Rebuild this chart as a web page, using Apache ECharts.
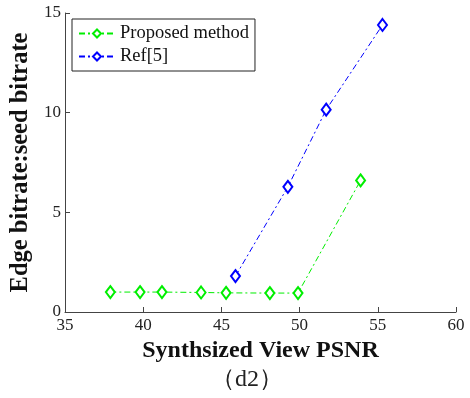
<!DOCTYPE html>
<html>
<head>
<meta charset="utf-8">
<script src="https://cdn.jsdelivr.net/npm/echarts@6/dist/echarts.min.js"></script>
<style>
  html, body { margin: 0; padding: 0; background: #fff; }
  #main { width: 470px; height: 398px; }
</style>
</head>
<body>
<div id="main"></div>
<script>
// 读图所得数据
var proposedX = [37.9, 39.8, 41.2, 43.7, 45.3, 48.1, 49.9, 53.9];
var proposedY = [1.0, 1.0, 1.0, 0.98, 0.96, 0.95, 0.95, 6.6];
var refX = [45.9, 49.25, 51.7, 55.3];
var refY = [1.8, 6.28, 10.15, 14.4];
var seriesNames = ['Proposed method', 'Ref[5]'];

function pairs (xs, ys) {
  var out = [];
  for (var i = 0; i < xs.length; i++) out.push([xs[i], ys[i]]);
  return out;
}

var myChart = echarts.init(document.getElementById('main'));
var font = '"Liberation Serif", "Times New Roman", serif';
var dashDot = [6, 3, 2, 3];
var option = {
  animation: false,
  backgroundColor: '#fff',
  grid: { left: 65, right: 14, top: 13, bottom: 86, containLabel: false },
  legend: {
    left: 72, top: 19, orient: 'vertical',
    padding: [5, 6, 5, 6],
    itemGap: 4,
    itemWidth: 36, itemHeight: 10,
    borderColor: '#222', borderWidth: 1,
    backgroundColor: '#fff',
    textStyle: { fontFamily: font, fontSize: 18.5, color: '#111' },
    data: seriesNames
  },
  xAxis: {
    type: 'value', min: 35, max: 60, interval: 5,
    name: 'Synthsized View PSNR', nameLocation: 'middle', nameGap: 25,
    nameTextStyle: { fontFamily: font, fontSize: 24, fontWeight: 'bold', color: '#111' },
    axisLine: { lineStyle: { color: '#444', width: 1 } },
    axisTick: { inside: true, length: 5, lineStyle: { color: '#444' } },
    axisLabel: { fontFamily: font, fontSize: 17, color: '#222', margin: 5 },
    splitLine: { show: false }
  },
  yAxis: {
    type: 'value', min: 0, max: 15, interval: 5,
    name: 'Edge bitrate:seed bitrate', nameLocation: 'middle', nameGap: 28,
    nameTextStyle: { fontFamily: font, fontSize: 24.5, fontWeight: 'bold', color: '#111' },
    axisLine: { show: true, lineStyle: { color: '#444', width: 1 } },
    axisTick: { show: true, inside: true, length: 5, lineStyle: { color: '#444' } },
    axisLabel: { fontFamily: font, fontSize: 17, color: '#222', margin: 4 },
    splitLine: { show: false }
  },
  graphic: [{
    type: 'text', left: 211, top: 368,
    style: { text: '（d2）', font: '24px ' + font, fill: '#222' }
  }],
  series: [{
    name: seriesNames[0], type: 'line',
    data: pairs(proposedX, proposedY),
    symbol: 'emptyDiamond', symbolSize: [9, 12], showAllSymbol: true,
    color: '#00ee00',
    lineStyle: { color: '#00ee00', width: 1, type: dashDot },
    itemStyle: { color: '#00ee00', borderColor: '#00ee00', borderWidth: 1.5 }
  }, {
    name: seriesNames[1], type: 'line',
    data: pairs(refX, refY),
    symbol: 'emptyDiamond', symbolSize: [9, 12], showAllSymbol: true,
    color: '#0000ff',
    lineStyle: { color: '#0000ff', width: 1, type: dashDot },
    itemStyle: { color: '#0000ff', borderColor: '#0000ff', borderWidth: 1.5 }
  }]
};
myChart.setOption(option);
</script>
</body>
</html>
